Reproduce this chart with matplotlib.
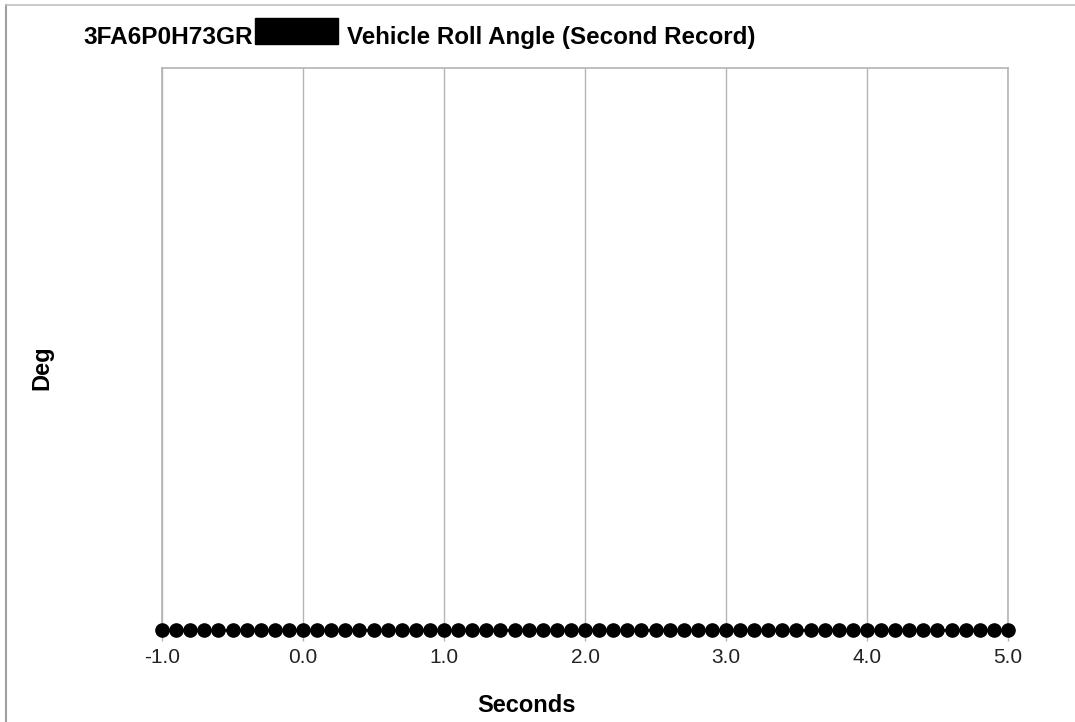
import matplotlib.pyplot as plt
from matplotlib.lines import Line2D
from matplotlib.patches import Rectangle

plt.rcParams['font.family'] = ['Liberation Sans', 'DejaVu Sans']

# recorded samples, every 0.1 s
seconds = [-1.0, -0.9, -0.8, -0.7, -0.6, -0.5, -0.4, -0.3, -0.2, -0.1,
           0.0, 0.1, 0.2, 0.3, 0.4, 0.5, 0.6, 0.7, 0.8, 0.9,
           1.0, 1.1, 1.2, 1.3, 1.4, 1.5, 1.6, 1.7, 1.8, 1.9,
           2.0, 2.1, 2.2, 2.3, 2.4, 2.5, 2.6, 2.7, 2.8, 2.9,
           3.0, 3.1, 3.2, 3.3, 3.4, 3.5, 3.6, 3.7, 3.8, 3.9,
           4.0, 4.1, 4.2, 4.3, 4.4, 4.5, 4.6, 4.7, 4.8, 4.9,
           5.0]
roll_deg = [0, 0, 0, 0, 0, 0, 0, 0, 0, 0,
            0, 0, 0, 0, 0, 0, 0, 0, 0, 0,
            0, 0, 0, 0, 0, 0, 0, 0, 0, 0,
            0, 0, 0, 0, 0, 0, 0, 0, 0, 0,
            0, 0, 0, 0, 0, 0, 0, 0, 0, 0,
            0, 0, 0, 0, 0, 0, 0, 0, 0, 0,
            0]
x_ticks = [-1.0, 0.0, 1.0, 2.0, 3.0, 4.0, 5.0]

W, H = 1075, 722
fig = plt.figure(figsize=(W / 100, H / 100), dpi=100)
ax = fig.add_axes([162 / W, 1 - 630 / H, (1008 - 162) / W, (630 - 68) / H])

grid_col = '#b4b4b4'
ax.plot(seconds, roll_deg, color='black', lw=1.8, marker='o', ms=9.5,
        clip_on=False, zorder=5)

ax.set_xlim(-1.0, 5.0)
ax.set_ylim(0, 1)
ax.set_xticks(x_ticks)
ax.set_xticklabels(['%.1f' % t for t in x_ticks], fontsize=15, color='#222222')
ax.set_yticks([])
ax.tick_params(axis='x', length=8, width=1, color=grid_col, pad=5)
ax.grid(axis='x', color=grid_col, lw=1)
for s in ax.spines.values():
    s.set_color(grid_col)
    s.set_linewidth(1.2)

ax.set_xlabel('Seconds', fontsize=17, fontweight='bold', va='center', ha='center')
ax.set_ylabel('Deg', fontsize=17, fontweight='bold', va='center', ha='center')
ax.xaxis.set_label_coords((527 - 162) / 846, (630 - 706) / 562)
ax.yaxis.set_label_coords((42 - 162) / 846, (630 - 368) / 562)

# title with redacted part of the VIN
fig.text(83 / W, 1 - 44 / H, '3FA6P0H73GR', fontsize=17.6, fontweight='bold',
         ha='left', va='baseline')
fig.add_artist(Rectangle((255 / W, 1 - 44 / H), 83 / W, 26 / H,
                         transform=fig.transFigure, color='black'))
fig.text(347 / W, 1 - 44 / H, 'Vehicle Roll Angle (Second Record)',
         fontsize=17.4, fontweight='bold', ha='left', va='baseline')

# outer frame of the original report
fig.add_artist(Line2D([6 / W, 6 / W], [0, 1 - 5 / H], color='#a0a0a0', lw=1.5,
                      transform=fig.transFigure))
fig.add_artist(Line2D([6 / W, 1], [1 - 5 / H, 1 - 5 / H], color='#c0c0c0', lw=1.2,
                      transform=fig.transFigure))

fig.savefig('out.png', dpi=100)
